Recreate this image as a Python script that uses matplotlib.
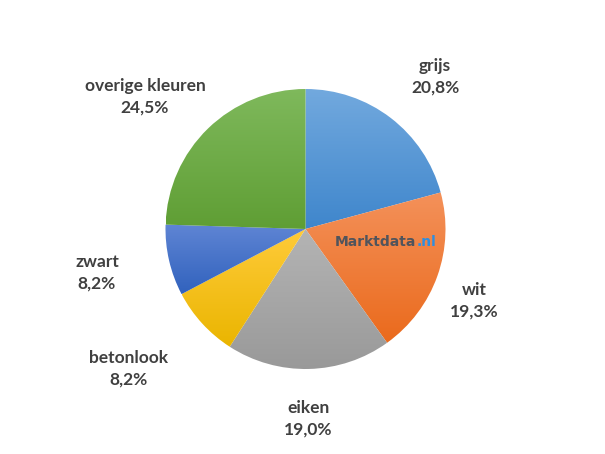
import matplotlib
matplotlib.use("Agg")
import matplotlib.pyplot as plt
import numpy as np
from matplotlib.colors import LinearSegmentedColormap

labels = ["grijs", "wit", "eiken", "betonlook", "zwart", "overige kleuren"]
values = [20.8, 19.3, 19.0, 8.2, 8.2, 24.5]

# gradient colours per slice (top, bottom)
grad_top = ["#72a9de", "#f4915a", "#b4b4b4", "#ffcb3a", "#5f85d4", "#7fb95c"]
grad_bot = ["#3f86cc", "#ea6a1c", "#999999", "#eab500", "#3162bd", "#5f9e34"]

# label anchor positions in pixels (x, y from top)
label_pos = [(435, 77), (474, 301), (308, 419), (128, 369), (97, 273), (145, 97)]

W, H = 605, 454
cx, cy, r = 305.5, H - 229, 140

fig = plt.figure(figsize=(W / 100, H / 100), dpi=100)
ax = fig.add_axes([0, 0, 1, 1])

wedges, _ = ax.pie(values, startangle=90, counterclock=False, center=(cx, cy),
                   radius=r, frame=True,
                   wedgeprops=dict(linewidth=0, edgecolor="none"))

for w, c0, c1 in zip(wedges, grad_top, grad_bot):
    w.set_facecolor("none")
    verts = w.get_path().vertices
    x0, x1 = verts[:, 0].min(), verts[:, 0].max()
    y0, y1 = verts[:, 1].min(), verts[:, 1].max()
    cmap = LinearSegmentedColormap.from_list("g", [c1, c0])
    grad = np.linspace(0, 1, 256).reshape(-1, 1)
    im = ax.imshow(grad, cmap=cmap, extent=(x0, x1, y0, y1), origin="lower",
                   aspect="auto", interpolation="bilinear", zorder=1)
    im.set_clip_path(w)

ax.set_xlim(0, W)
ax.set_ylim(0, H)
ax.set_aspect("equal")
ax.axis("off")

for lab, v, (lx, ly) in zip(labels, values, label_pos):
    txt = f"{lab}\n{v:.1f}%".replace(".", ",")
    ax.text(lx, H - ly, txt, ha="center", va="center", fontsize=12.5,
            fontweight="bold", family="Lato", color="#404040",
            linespacing=1.4, zorder=3)

# watermark
t1 = ax.text(335, H - 242, "Marktdata", ha="left", va="center", fontsize=10,
             fontweight="bold", family="DejaVu Sans", color="#50545c", zorder=3)
fig.canvas.draw()
bb = t1.get_window_extent().transformed(ax.transData.inverted())
ax.text(bb.x1, H - 242, ".nl", ha="left", va="center", fontsize=10,
        fontweight="bold", family="DejaVu Sans", color="#2e8ee0", zorder=3)

fig.savefig("out.png", dpi=100, facecolor="white")
